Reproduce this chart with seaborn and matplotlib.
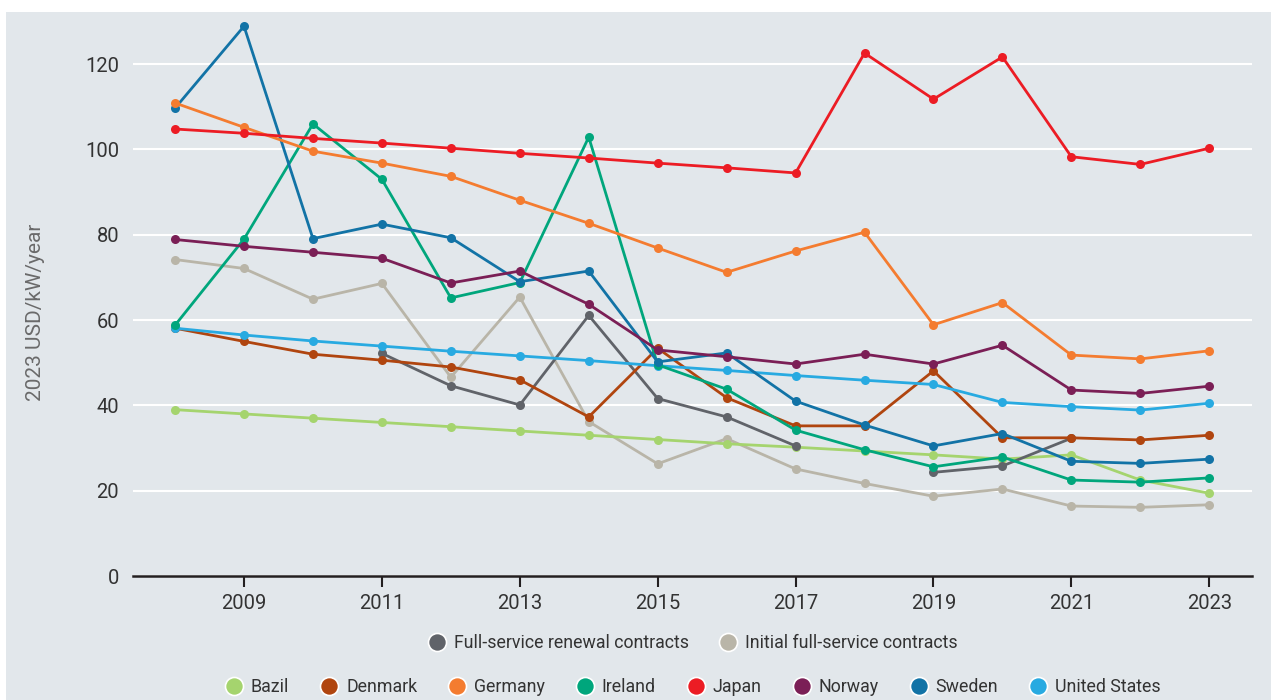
import numpy as np
import pandas as pd
import matplotlib
matplotlib.use("Agg")
import matplotlib.pyplot as plt
from matplotlib.lines import Line2D
from matplotlib.patches import Rectangle
import seaborn as sns

years = list(range(2008, 2024))

bazil = [39, 38, 37, 36, 35, 34, 33, 32, 31, 30.2, 29.3, 28.4, 27.4, 28.4, 22.5, 19.4]
denmark = [58.1, 55, 52, 50.6, 49, 46, 37.3, 53.4, 41.8, 35.2, 35.2, 48.1, 32.4, 32.4, 31.9, 33]
germany = [110.9, 105.2, 99.6, 96.8, 93.7, 88.1, 82.7, 76.9, 71.2, 76.2, 80.6, 58.9, 64.1, 51.8, 50.9, 52.8]
ireland = [58.8, 79, 106, 93, 65.2, 68.8, 102.9, 49.5, 43.8, 34.2, 29.6, 25.6, 27.9, 22.5, 22, 23]
japan = [104.8, 103.8, 102.6, 101.5, 100.3, 99.1, 98, 96.8, 95.7, 94.5, 122.6, 111.8, 121.7, 98.3, 96.5, 100.3]
norway = [78.9, 77.3, 75.9, 74.5, 68.7, 71.5, 63.7, 53, 51.4, 49.7, 52, 49.7, 54.1, 43.6, 42.8, 44.5]
sweden = [109.7, 128.9, 79.1, 82.5, 79.3, 69, 71.5, 50.2, 52.3, 41, 35.4, 30.5, 33.4, 26.9, 26.4, 27.4]
united_states = [58.1, 56.5, 55.1, 53.9, 52.7, 51.6, 50.5, 49.3, 48.2, 47, 45.9, 44.9, 40.7, 39.7, 38.9, 40.5]
renewal = [np.nan, np.nan, np.nan, 52.2, 44.6, 40.1, 61.1, 41.6, 37.3, 30.5, np.nan, 24.3, 25.8, 32.3, np.nan, np.nan]
initial = [74.2, 72.1, 64.9, 68.6, 46.6, 65.4, 36.2, 26.3, 32.2, 25.1, 21.7, 18.7, 20.4, 16.4, 16.1, 16.7]

series = {
    "Full-service renewal contracts": renewal,
    "Initial full-service contracts": initial,
    "Bazil": bazil,
    "Denmark": denmark,
    "Germany": germany,
    "Ireland": ireland,
    "Japan": japan,
    "Norway": norway,
    "Sweden": sweden,
    "United States": united_states,
}
colors = {
    "Full-service renewal contracts": "#606369",
    "Initial full-service contracts": "#b9b5a8",
    "Bazil": "#a5d46e",
    "Denmark": "#b0450f",
    "Germany": "#f47c30",
    "Ireland": "#00a67c",
    "Japan": "#ec1c24",
    "Norway": "#7b1f56",
    "Sweden": "#1273a6",
    "United States": "#28aae1",
}
row1 = ["Full-service renewal contracts", "Initial full-service contracts"]
row2 = ["Bazil", "Denmark", "Germany", "Ireland", "Japan", "Norway", "Sweden", "United States"]
draw_order = ["Initial full-service contracts", "Bazil", "Full-service renewal contracts",
              "Denmark", "United States", "Ireland", "Sweden", "Norway", "Germany", "Japan"]

sns.set_theme(style="white")
plt.rcParams["font.family"] = ["Roboto", "DejaVu Sans"]

BG = "#e2e7eb"
fig = plt.figure(figsize=(12.71, 7.0), dpi=100)
fig.patch.set_facecolor("white")
fig.add_artist(Rectangle((6 / 1271, 0), 1 - 6 / 1271, 1 - 12 / 700,
                         transform=fig.transFigure, facecolor=BG, edgecolor="none", zorder=0))

ax = fig.add_axes([133 / 1271, 124 / 700, (1252 - 133) / 1271, 563 / 700])
ax.set_facecolor(BG)

for name in draw_order:
    vals = series[name]
    df = pd.DataFrame({"year": years, "value": vals})
    df["seg"] = df["value"].isna().cumsum()
    df = df.dropna()
    for _, part in df.groupby("seg"):
        sns.lineplot(data=part, x="year", y="value", ax=ax, color=colors[name],
                     linewidth=2.0, marker="o", markersize=6.5, markeredgewidth=0,
                     legend=False, zorder=3)

ax.set_xlim(2007.39, 2023.62)
ax.set_ylim(0, 132)
ax.set_yticks([0, 20, 40, 60, 80, 100, 120])
ax.set_xticks(list(range(2009, 2024, 2)))
ax.grid(axis="y", color="white", linewidth=1.5, zorder=0)
ax.grid(axis="x", visible=False)
ax.set_axisbelow(True)
for s in ["top", "right", "left"]:
    ax.spines[s].set_visible(False)
ax.spines["bottom"].set_color("#231f20")
ax.spines["bottom"].set_linewidth(1.8)
ax.spines["bottom"].set_zorder(5)
ax.tick_params(axis="x", bottom=True, direction="out", length=8, width=1.5,
               color="#231f20", labelsize=14.5, labelcolor="#333333", pad=5)
ax.tick_params(axis="y", left=False, labelsize=14.5, labelcolor="#333333", pad=4)
ax.set_xlabel("")
ax.set_ylabel("")
fig.text(36 / 1271, 1 - 312 / 700, "2023 USD/kW/year", rotation=90, ha="center", va="center",
         fontsize=15, color="#6a6a6a")

def handles_for(names):
    return [Line2D([], [], linestyle="none", marker="o", markersize=13,
                   markerfacecolor=colors[n], markeredgecolor="white",
                   markeredgewidth=1.2) for n in names]

fig.legend(handles_for(row1), row1, loc="center", bbox_to_anchor=(692 / 1271, 1 - 643 / 700),
           ncol=2, frameon=False, fontsize=12.8, handletextpad=0.35, columnspacing=1.6,
           labelcolor="#333333", handlelength=1.2)
fig.legend(handles_for(row2), row2, loc="center", bbox_to_anchor=(692 / 1271, 1 - 687 / 700),
           ncol=8, frameon=False, fontsize=12.8, handletextpad=0.35, columnspacing=1.65,
           labelcolor="#333333", handlelength=1.2)

fig.savefig("out.png", dpi=100, facecolor=fig.get_facecolor())
